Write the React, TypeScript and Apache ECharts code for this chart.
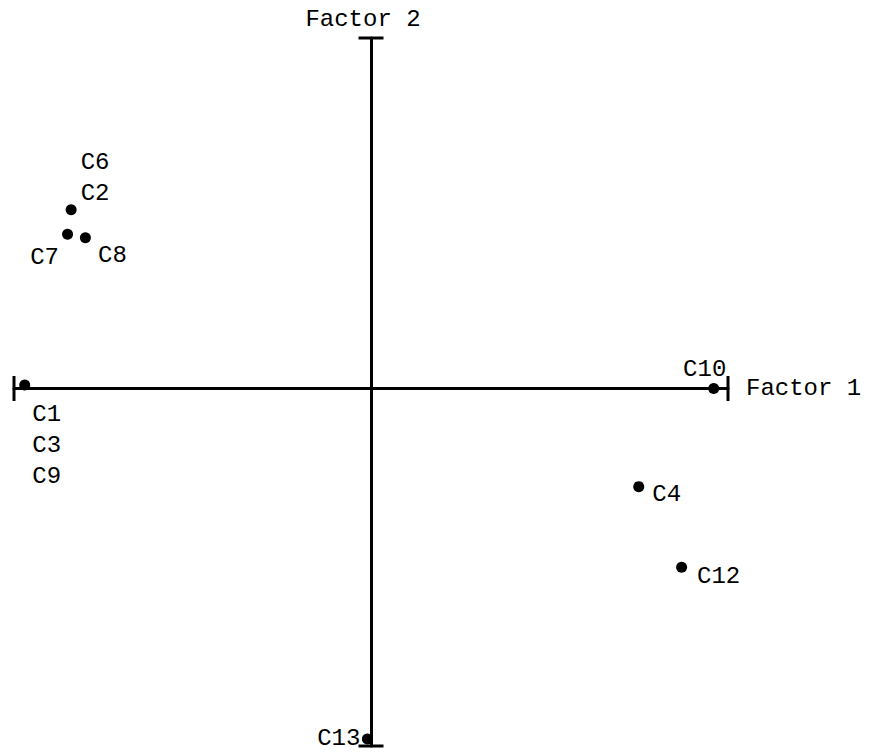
import { useEffect, useRef } from 'react';
import * as echarts from 'echarts';

// Cases and their loadings on the two factors
const cases = ['C6', 'C2', 'C7', 'C8', 'C1', 'C3', 'C9', 'C10', 'C4', 'C12', 'C13'];
const factor1 = [-0.84, -0.84, -0.85, -0.8, -0.97, -0.97, -0.97, 0.96, 0.75, 0.87, -0.01];
const factor2 = [0.51, 0.51, 0.44, 0.43, 0.01, 0.01, 0.01, 0.0, -0.28, -0.51, -1.0];

// Axis extents
const xRange = [-1, 1];
const yRange = [-1.02, 1];

const FONT = '"Liberation Mono", "DejaVu Sans Mono", monospace';
const FONT_SIZE = 24;

// Where each point's label sits relative to its dot (keyed by the first name of a group)
const labelPlacement: Record<string, { offset: [number, number]; align?: string }> = {
  C6: { offset: [24, -32] },
  C7: { offset: [-23, 23] },
  C8: { offset: [27, 18] },
  C1: { offset: [22, 61] },
  C10: { offset: [-9, -19] },
  C4: { offset: [28, 8] },
  C12: { offset: [37, 9] },
  C13: { offset: [-7, 0], align: 'right' },
};

function groupPoints() {
  const groups: { x: number; y: number; names: string[] }[] = [];
  cases.forEach((name, i) => {
    const g = groups.find((p) => p.x === factor1[i] && p.y === factor2[i]);
    if (g) g.names.push(name);
    else groups.push({ x: factor1[i], y: factor2[i], names: [name] });
  });
  return groups;
}

export default function App() {
  const ref = useRef<HTMLDivElement>(null);

  useEffect(() => {
    if (!ref.current) return;
    const chart = echarts.init(ref.current, null, { renderer: 'svg' });

    const points = groupPoints().map((g) => {
      const place = labelPlacement[g.names[0]] || { offset: [14, 0] };
      return {
        value: [g.x, g.y],
        label: {
          show: true,
          position: 'inside',
          formatter: g.names.join('\n'),
          offset: place.offset,
          align: place.align || 'center',
          verticalAlign: 'middle',
          color: '#000',
          fontFamily: FONT,
          fontSize: FONT_SIZE,
          lineHeight: 31,
        },
      };
    });

    const axisLineStyle = { color: '#000', width: 3 };

    chart.setOption({
      animation: false,
      backgroundColor: '#fff',
      grid: { left: 14, right: 158, top: 38, bottom: 9, containLabel: false },
      xAxis: {
        type: 'value',
        min: xRange[0],
        max: xRange[1],
        name: 'Factor 1',
        nameLocation: 'end',
        nameGap: 18,
        nameTextStyle: { color: '#000', fontFamily: FONT, fontSize: FONT_SIZE, align: 'left', verticalAlign: 'middle' },
        axisLine: { show: true, onZero: true, lineStyle: axisLineStyle },
        axisTick: { show: false },
        axisLabel: { show: false },
        splitLine: { show: false },
      },
      yAxis: {
        type: 'value',
        min: yRange[0],
        max: yRange[1],
        name: 'Factor 2',
        nameLocation: 'end',
        nameGap: 7,
        nameTextStyle: { color: '#000', fontFamily: FONT, fontSize: FONT_SIZE, padding: [0, 16, 0, 0] },
        axisLine: { show: true, onZero: true, lineStyle: axisLineStyle },
        axisTick: { show: false },
        axisLabel: { show: false },
        splitLine: { show: false },
      },
      series: [
        {
          // end bars of the horizontal axis
          type: 'scatter',
          symbol: 'rect',
          symbolSize: [3, 25],
          itemStyle: { color: '#000', opacity: 1 },
          silent: true,
          data: [
            [xRange[0], 0],
            [xRange[1], 0],
          ],
          z: 1,
        },
        {
          // end bars of the vertical axis
          type: 'scatter',
          symbol: 'rect',
          symbolSize: [25, 3],
          itemStyle: { color: '#000', opacity: 1 },
          silent: true,
          data: [
            [0, yRange[0]],
            [0, yRange[1]],
          ],
          z: 1,
        },
        {
          type: 'scatter',
          symbol: 'circle',
          symbolSize: 11,
          itemStyle: { color: '#000', opacity: 1 },
          data: points,
          z: 3,
        },
      ],
    });

    return () => chart.dispose();
  }, []);

  return (
    <div
      ref={ref}
      style={{ position: 'fixed', left: 0, top: 0, width: 886, height: 755, background: '#fff' }}
    />
  );
}
